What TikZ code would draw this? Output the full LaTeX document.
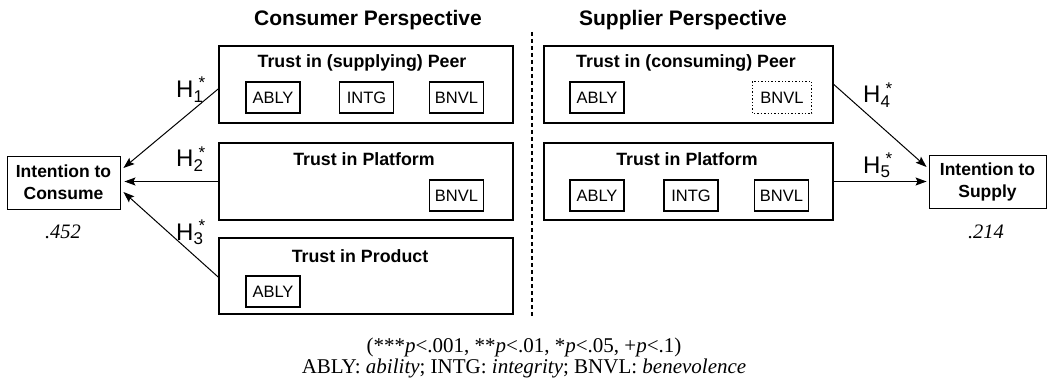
\documentclass[tikz,border=0pt]{standalone}
\usepackage{fontspec}
\setmainfont{Liberation Sans}
\newfontfamily\serifrm{Liberation Serif}
\usetikzlibrary{arrows.meta,calc}
\newcommand{\hlab}[1]{{\fontsize{24}{24}\selectfont H}\makebox[0pt][l]{\raisebox{-5pt}{\fontsize{17}{17}\selectfont #1}}\kern5pt\raisebox{9pt}{\fontsize{17}{17}\selectfont *}}
\begin{document}
\begin{tikzpicture}[x=1pt,y=-1pt,
  bigbox/.style={draw,line width=1.7pt,inner sep=0pt},
  subbox/.style={draw,line width=1.4pt,minimum width=54pt,minimum height=31pt,inner sep=0pt,font=\fontsize{16.5}{16.5}\selectfont},
  intbox/.style={draw,line width=0.9pt,inner sep=0pt,align=center,font=\fontsize{17.5}{22}\selectfont\bfseries},
  boxtitle/.style={anchor=base,inner sep=0pt,font=\fontsize{17.8}{17.8}\selectfont\bfseries},
  pers/.style={anchor=base,inner sep=0pt,font=\fontsize{21}{21}\selectfont\bfseries},
  hl/.style={anchor=base west,inner sep=0pt},
  rsq/.style={anchor=base,inner sep=0pt,font=\serifrm\itshape\fontsize{20.5}{20.5}\selectfont},
  arr/.style={line width=1pt,-{Stealth[length=11pt,width=8pt,inset=2pt]}}
]
\useasboundingbox (0,0) rectangle (1047,385);
% perspective titles
\node[pers] (ptc) at (368,26) {Consumer Perspective};
\node[pers] (pts) at (683,26) {Supplier Perspective};
% divider
\coordinate (dtop) at (532,32);
\coordinate (dbot) at (532,318);
\draw[line width=1.3pt,dash pattern=on 4pt off 3pt] (dtop) -- (dbot);
% consumer boxes
\node[bigbox,minimum width=294pt,minimum height=77pt] (cp1) at (366,84.5) {};
\node[bigbox,minimum width=294pt,minimum height=77pt] (cp2) at (366,181.5) {};
\node[bigbox,minimum width=294pt,minimum height=76pt] (cp3) at (366,276) {};
\node[boxtitle] (cp1t) at (362,68) {Trust in (supplying) Peer};
\node[boxtitle] (cp2t) at (364,166) {Trust in Platform};
\node[boxtitle] (cp3t) at (360,262) {Trust in Product};
\node[subbox] (c1a) at (273,97.5) {ABLY};
\node[subbox] (c1i) at (366.5,97.5) {INTG};
\node[subbox] (c1b) at (456.5,97.5) {BNVL};
\node[subbox] (c2b) at (456.5,195.5) {BNVL};
\node[subbox] (c3a) at (273,291.5) {ABLY};
% supplier boxes
\node[bigbox,minimum width=289pt,minimum height=77pt] (sp1) at (688.5,84.5) {};
\node[bigbox,minimum width=289pt,minimum height=77pt] (sp2) at (688.5,181.5) {};
\node[boxtitle] (sp1t) at (686,68) {Trust in (consuming) Peer};
\node[boxtitle] (sp2t) at (687,166) {Trust in Platform};
\node[subbox] (s1a) at (597,97.5) {ABLY};
\node[subbox,draw=none,minimum width=58pt] (s1b) at (782,97.5) {BNVL};
\draw[line width=1.4pt,dotted] (s1b.north west) rectangle (s1b.south east);
\node[subbox] (s2a) at (597,195.5) {ABLY};
\node[subbox] (s2i) at (691,195.5) {INTG};
\node[subbox] (s2b) at (781.5,195.5) {BNVL};
% intention boxes
\node[intbox,minimum width=113pt,minimum height=53pt] (ic) at (63.5,182.5) {Intention to\\Consume};
\node[intbox,minimum width=117pt,minimum height=53pt] (is) at (987.5,181.5) {Intention to\\Supply};
\node[rsq] (icr) at (63,238) {.452};
\node[rsq] (isr) at (986,238) {.214};
% arrows
\draw[arr] ($(cp1.west)+(0,4.5)$) -- ($(ic.east)+(3,-14.5)$);
\draw[arr] (cp2.west) -- ($(ic.east)+(4,-1)$);
\draw[arr] ($(cp3.west)+(0,1)$) -- ($(ic.east)+(3,9.5)$);
\draw[arr] (sp1.east) -- ($(is.west)+(-2,-14.5)$);
\draw[arr] (sp2.east) -- ($(is.west)+(-2,0)$);
% hypothesis labels
\node[hl] (h1) at (176,98) {\hlab{1}};
\node[hl] (h2) at (176,167) {\hlab{2}};
\node[hl] (h3) at (176,240) {\hlab{3}};
\node[hl] (h4) at (863,103) {\hlab{4}};
\node[hl] (h5) at (863,173) {\hlab{5}};
% notes
\node[anchor=base,inner sep=0pt,font=\serifrm\fontsize{21}{21}\selectfont] (n1) at (524,352) {(***\textit{p}<.001, **\textit{p}<.01, *\textit{p}<.05, +\textit{p}<.1)};
\node[anchor=base,inner sep=0pt,font=\serifrm\fontsize{21}{21}\selectfont] (n2) at (524,373) {ABLY: \textit{ability}; INTG: \textit{integrity}; BNVL: \textit{benevolence}};
\end{tikzpicture}
\end{document}
